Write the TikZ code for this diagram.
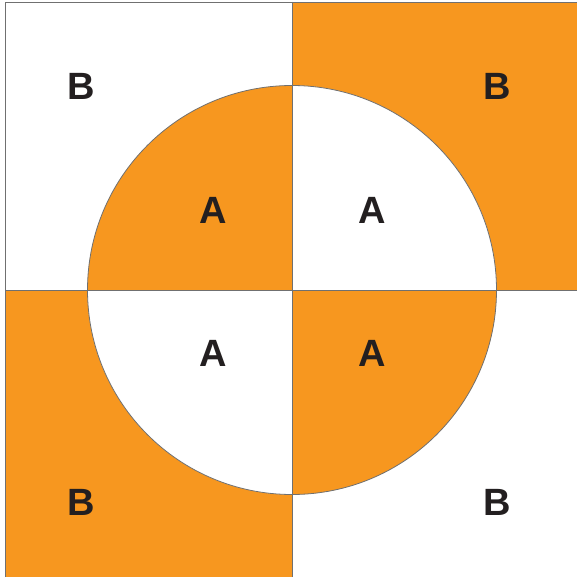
\documentclass[tikz,border=0pt]{standalone}
\usepackage{fontspec}
\setmainfont{Liberation Sans}
\definecolor{orng}{HTML}{F7971F}
\definecolor{txt}{HTML}{231F20}
\definecolor{ln}{HTML}{707070}
\begin{document}
\begin{tikzpicture}[x=1pt,y=-1pt,
  lbl/.style={text=txt,font=\fontsize{38}{38}\selectfont\bfseries,inner sep=0pt},
  edge/.style={draw=ln,line width=0.8pt}]
\useasboundingbox (0,0) rectangle (576,577);
\coordinate (c) at (292,290);
% quadrants
\fill[orng] (292,2) rectangle (580,290);
\fill[orng] (5,290) rectangle (292,580);
% circle quarters (y axis points down: angle 270 is up)
\fill[orng] (c) -- (87.5,290) arc[start angle=180,end angle=270,radius=204.5] -- cycle;
\fill[white] (c) -- (496.5,290) arc[start angle=0,end angle=-90,radius=204.5] -- cycle;
\fill[white] (c) -- (87.5,290) arc[start angle=180,end angle=90,radius=204.5] -- cycle;
\fill[orng] (c) -- (496.5,290) arc[start angle=0,end angle=90,radius=204.5] -- cycle;
% lines
\draw[edge] (c) circle[radius=204.5];
\draw[edge] (5,580) -- (5,2) -- (580,2);
\draw[edge] (292,2) -- (292,580);
\draw[edge] (5,290) -- (580,290);
% labels
\node[lbl] (b1) at (81,86) {B};
\node[lbl] (b2) at (497,86) {B};
\node[lbl] (a1) at (213,210) {A};
\node[lbl] (a2) at (372,210) {A};
\node[lbl] (a3) at (213,353) {A};
\node[lbl] (a4) at (372,353) {A};
\node[lbl] (b3) at (81,502) {B};
\node[lbl] (b4) at (497,502) {B};
\end{tikzpicture}
\end{document}
